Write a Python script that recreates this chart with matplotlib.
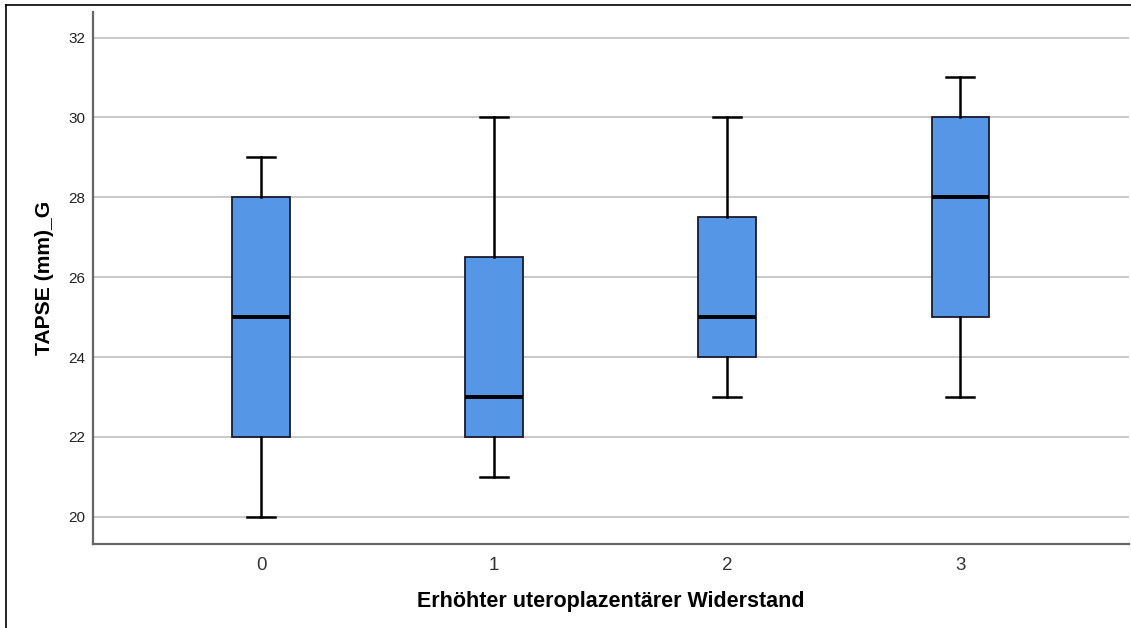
import matplotlib
matplotlib.use("Agg")
import matplotlib.pyplot as plt
from matplotlib.lines import Line2D

plt.rcParams['font.family'] = ['Liberation Sans', 'DejaVu Sans']

categories = ["0", "1", "2", "3"]
whisker_low = [20, 21, 23, 23]
q1 = [22, 22, 24, 25]
median = [25, 23, 25, 28]
q3 = [28, 26.5, 27.5, 30]
whisker_high = [29, 30, 30, 31]
yticks = [20, 22, 24, 26, 28, 30, 32]

fig = plt.figure(figsize=(11.31, 6.28), dpi=100)
W, H = 1131, 628
left, right, top, bottom = 93, 1129, 12, 543.5
ax = fig.add_axes([left / W, 1 - bottom / H, (right - left) / W, (bottom - top) / H])

stats = []
for i, c in enumerate(categories):
    stats.append(dict(label=c, whislo=whisker_low[i], q1=q1[i], med=median[i],
                      q3=q3[i], whishi=whisker_high[i], fliers=[]))

ax.bxp(stats, positions=range(len(categories)), widths=0.245, patch_artist=True,
       showfliers=False,
       boxprops=dict(facecolor='#5597E6', edgecolor='#1a1a2e', linewidth=1.3),
       medianprops=dict(color='black', linewidth=2.8),
       whiskerprops=dict(color='black', linewidth=1.8),
       capprops=dict(color='black', linewidth=1.8),
       capwidths=0.122, zorder=3)

ax.set_xlim(-0.721, 3.725)
ax.set_ylim(19.33, 32.64)
ax.set_yticks(yticks)
ax.set_yticklabels([str(t) for t in yticks], fontsize=11, color='#222222')
ax.set_xticks(range(len(categories)))
ax.set_xticklabels(categories, fontsize=13.5, color='#333333')
ax.tick_params(axis='both', length=0)
ax.tick_params(axis='y', pad=5.5)
ax.tick_params(axis='x', pad=10)
ax.yaxis.grid(True, color='#c8c8c8', linewidth=1.4, zorder=0)
ax.set_axisbelow(True)
for s in ['top', 'right']:
    ax.spines[s].set_visible(False)
for s in ['left', 'bottom']:
    ax.spines[s].set_color('#666666')
    ax.spines[s].set_linewidth(1.6)

ax.set_ylabel("TAPSE (mm)_G", fontsize=15.2, fontweight='bold', labelpad=10)
ax.set_xlabel("Erhöhter uteroplazentärer Widerstand", fontsize=15.5, fontweight='bold', labelpad=12)

# outer frame
fig.add_artist(Line2D([6 / W, 6 / W], [0, 1 - 5 / H], color='black', linewidth=1.2, transform=fig.transFigure))
fig.add_artist(Line2D([6 / W, 1], [1 - 5 / H, 1 - 5 / H], color='black', linewidth=1.2, transform=fig.transFigure))

fig.savefig("out.png", dpi=100)
